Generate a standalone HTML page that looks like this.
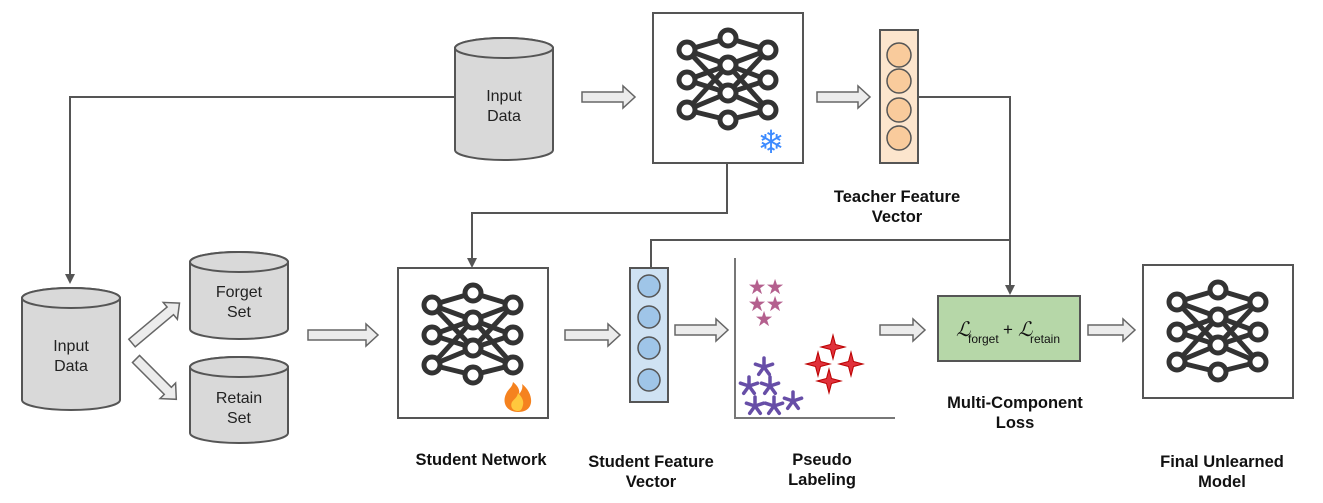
<!DOCTYPE html>
<html><head><meta charset="utf-8"><style>
html,body{margin:0;padding:0;background:#fff}
svg{display:block}
text{font-family:"Liberation Sans",sans-serif}
.b{font-weight:bold;font-size:16.5px;fill:#111}
.c{font-size:16px;fill:#222}
</style></head><body>
<svg width="1323" height="503" viewBox="0 0 1323 503">
<defs>
<marker id="ah" markerWidth="10" markerHeight="10" refX="8" refY="5" orient="auto" markerUnits="userSpaceOnUse"><path d="M0,0 L10,5 L0,10 Z" fill="#555"/></marker>
<g id="net" stroke="#333" stroke-width="5" fill="none">
 <g>
 <line x1="34" y1="37" x2="75" y2="25"/><line x1="34" y1="37" x2="75" y2="52"/><line x1="34" y1="37" x2="75" y2="80"/>
 <line x1="34" y1="67" x2="75" y2="52"/><line x1="34" y1="67" x2="75" y2="80"/>
 <line x1="34" y1="97" x2="75" y2="80"/><line x1="34" y1="97" x2="75" y2="107"/><line x1="34" y1="97" x2="75" y2="52"/>
 <line x1="115" y1="37" x2="75" y2="25"/><line x1="115" y1="37" x2="75" y2="52"/><line x1="115" y1="37" x2="75" y2="80"/>
 <line x1="115" y1="67" x2="75" y2="52"/><line x1="115" y1="67" x2="75" y2="80"/>
 <line x1="115" y1="97" x2="75" y2="80"/><line x1="115" y1="97" x2="75" y2="107"/><line x1="115" y1="97" x2="75" y2="52"/>
 </g>
 <g fill="#fff">
 <circle cx="34" cy="37" r="8"/><circle cx="34" cy="67" r="8"/><circle cx="34" cy="97" r="8"/>
 <circle cx="75" cy="25" r="8"/><circle cx="75" cy="52" r="8"/><circle cx="75" cy="80" r="8"/><circle cx="75" cy="107" r="8"/>
 <circle cx="115" cy="37" r="8"/><circle cx="115" cy="67" r="8"/><circle cx="115" cy="97" r="8"/>
 </g>
</g>
<g id="ast" stroke="#674ea7" stroke-width="3.5" stroke-linecap="round">
 <line x1="0" y1="0" x2="0" y2="-9"/><line x1="0" y1="0" x2="8.6" y2="-2.8"/><line x1="0" y1="0" x2="5.3" y2="7.3"/><line x1="0" y1="0" x2="-5.3" y2="7.3"/><line x1="0" y1="0" x2="-8.6" y2="-2.8"/>
</g>
<path id="sp" d="M0,-12 L2.5,-2.5 L12,0 L2.5,2.5 L0,12 L-2.5,2.5 L-12,0 L-2.5,-2.5 Z"/>
</defs>

<g stroke="#555" stroke-width="2" fill="none">
 <polyline points="455,97 70,97 70,282" marker-end="url(#ah)"/>
 <polyline points="727,163 727,213 472,213 472,266" marker-end="url(#ah)"/>
 <polyline points="918,97 1010,97 1010,293" marker-end="url(#ah)"/>
 <polyline points="651,268 651,240 1010,240"/>
</g>

<g stroke="#555" stroke-width="2" fill="#d9d9d9">
 <path d="M455,48 V150 A49,10 0 0 0 553,150 V48 A49,10 0 0 0 455,48 Z"/>
 <ellipse cx="504" cy="48" rx="49" ry="10"/>
 <path d="M22,298 V400 A49,10 0 0 0 120,400 V298 A49,10 0 0 0 22,298 Z"/>
 <ellipse cx="71" cy="298" rx="49" ry="10"/>
 <path d="M190,262 V329 A49,10 0 0 0 288,329 V262 A49,10 0 0 0 190,262 Z"/>
 <ellipse cx="239" cy="262" rx="49" ry="10"/>
 <path d="M190,367 V433 A49,10 0 0 0 288,433 V367 A49,10 0 0 0 190,367 Z"/>
 <ellipse cx="239" cy="367" rx="49" ry="10"/>
</g>
<g class="c" text-anchor="middle">
 <text x="504" y="101">Input</text><text x="504" y="121">Data</text>
 <text x="71" y="351">Input</text><text x="71" y="371">Data</text>
 <text x="239" y="297">Forget</text><text x="239" y="317">Set</text>
 <text x="239" y="403">Retain</text><text x="239" y="423">Set</text>
</g>

<g fill="#ececec" stroke="#666" stroke-width="1.5">
 <path transform="translate(582,97)" d="M0,-5 H41 V-11 L53,0 L41,11 V5 H0 Z"/>
 <path transform="translate(817,97)" d="M0,-5 H41 V-11 L53,0 L41,11 V5 H0 Z"/>
 <path transform="translate(308,335)" d="M0,-5 H58 V-11 L70,0 L58,11 V5 H0 Z"/>
 <path transform="translate(565,335)" d="M0,-5 H43 V-11 L55,0 L43,11 V5 H0 Z"/>
 <path transform="translate(675,330)" d="M0,-5 H41 V-11 L53,0 L41,11 V5 H0 Z"/>
 <path transform="translate(880,330)" d="M0,-5 H33 V-11 L45,0 L33,11 V5 H0 Z"/>
 <path transform="translate(1088,330)" d="M0,-5 H35 V-11 L47,0 L35,11 V5 H0 Z"/>
 <path transform="translate(132,343) rotate(-40)" d="M0,-5 H50 V-11 L62,0 L50,11 V5 H0 Z"/>
 <path transform="translate(136,359) rotate(45)" d="M0,-5 H45 V-11 L57,0 L45,11 V5 H0 Z"/>
</g>

<rect x="653" y="13" width="150" height="150" fill="#fff" stroke="#555" stroke-width="2"/>
<use href="#net" x="653" y="13"/>
<text x="771" y="153" font-size="32" fill="#3d8bff" text-anchor="middle" font-family="DejaVu Sans">❄</text>

<rect x="398" y="268" width="150" height="150" fill="#fff" stroke="#555" stroke-width="2"/>
<use href="#net" x="398" y="268"/>
<g transform="translate(518,398)">
 <path d="M0,14 C-12,14 -16,4 -12,-4 C-10,-9 -6,-10 -5,-16 C0,-12 2,-8 1,-4 C4,-7 5,-11 4,-14 C12,-8 15,2 12,8 C10,12 6,14 0,14 Z" fill="#f5821f"/>
 <path d="M0,13 C-6,13 -8,8 -6,4 C-4,1 -1,0 0,-5 C4,-1 6,3 5,7 C4,11 3,13 0,13 Z" fill="#ffc83d"/>
</g>

<rect x="1143" y="265" width="150" height="133" fill="#fff" stroke="#555" stroke-width="2"/>
<use href="#net" x="1143" y="265"/>

<rect x="880" y="30" width="38" height="133" fill="#fce5cd" stroke="#555" stroke-width="2"/>
<g fill="#f9cb9c" stroke="#555" stroke-width="1.5">
 <circle cx="899" cy="55" r="12"/><circle cx="899" cy="81" r="12"/><circle cx="899" cy="110" r="12"/><circle cx="899" cy="138" r="12"/>
</g>
<rect x="630" y="268" width="38" height="134" fill="#cfe2f3" stroke="#555" stroke-width="2"/>
<g fill="#9fc5e8" stroke="#555" stroke-width="1.5">
 <circle cx="649" cy="286" r="11"/><circle cx="649" cy="317" r="11"/><circle cx="649" cy="348" r="11"/><circle cx="649" cy="380" r="11"/>
</g>

<polyline points="735,258 735,418 895,418" fill="none" stroke="#777" stroke-width="2"/>
<g font-size="21" fill="#b4608e" text-anchor="middle" font-family="DejaVu Sans">
 <text x="757" y="294">★</text><text x="775" y="294">★</text><text x="757" y="311">★</text><text x="775" y="311">★</text><text x="764" y="326">★</text>
</g>
<use href="#ast" x="764" y="367"/>
<use href="#ast" x="749" y="386"/>
<use href="#ast" x="770" y="386"/>
<use href="#ast" x="755" y="406"/>
<use href="#ast" x="774" y="406"/>
<use href="#ast" x="793" y="401"/>
<g fill="#e0303a" stroke="#b00" stroke-width="1">
 <use href="#sp" x="833" y="347"/>
 <use href="#sp" x="818" y="364"/>
 <use href="#sp" x="851" y="364"/>
 <use href="#sp" x="829" y="381"/>
</g>

<rect x="938" y="296" width="142" height="65" fill="#b6d7a8" stroke="#555" stroke-width="2"/>
<text x="956" y="336" font-family="Liberation Serif,serif" font-style="italic" font-size="20" fill="#111">ℒ</text>
<text x="968" y="343" font-size="12" fill="#111">forget</text>
<text x="1003" y="335" font-size="17" fill="#111">+</text>
<text x="1018" y="336" font-family="Liberation Serif,serif" font-style="italic" font-size="20" fill="#111">ℒ</text>
<text x="1030" y="343" font-size="12" fill="#111">retain</text>

<g class="b" text-anchor="middle">
 <text x="897" y="202">Teacher Feature</text><text x="897" y="222">Vector</text>
 <text x="481" y="465">Student Network</text>
 <text x="651" y="467">Student Feature</text><text x="651" y="487">Vector</text>
 <text x="822" y="465">Pseudo</text><text x="822" y="485">Labeling</text>
 <text x="1015" y="408">Multi-Component</text><text x="1015" y="428">Loss</text>
 <text x="1222" y="467">Final Unlearned</text><text x="1222" y="487">Model</text>
</g>
</svg>
</body></html>
